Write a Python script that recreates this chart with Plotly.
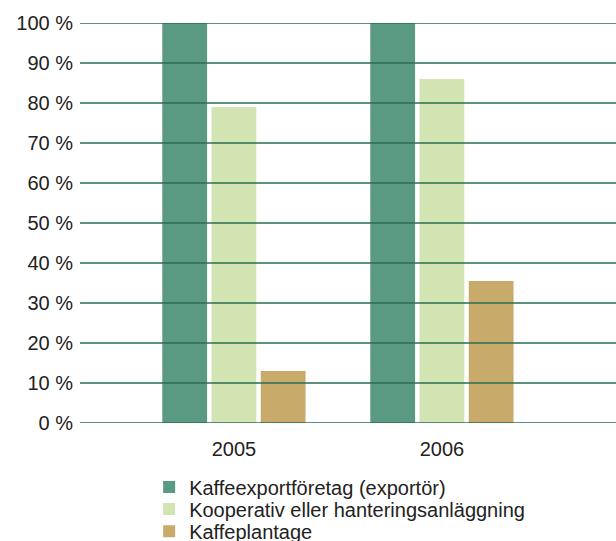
import plotly.graph_objects as go

years = ["2005", "2006"]
series_names = [
    "Kaffeexportföretag (exportör)",
    "Kooperativ eller hanteringsanläggning",
    "Kaffeplantage",
]
exporter = [100, 100]
cooperative = [79, 86]
plantation = [13, 35.5]
series_values = [exporter, cooperative, plantation]
colors = ["#5b9a82", "#d2e4b1", "#c8ab6a"]

y_ticks = [0, 10, 20, 30, 40, 50, 60, 70, 80, 90, 100]
y_ticklabels = [f"{v} %" for v in y_ticks]

font = "Liberation Sans, Arial, sans-serif"
legend_ids = ["legend", "legend2", "legend3"]
legend_rows = [0.100, 0.059, 0.018]

fig = go.Figure()
for name, vals, col, lg in zip(series_names, series_values, colors, legend_ids):
    fig.add_trace(go.Bar(x=years, y=vals, name=name, marker_color=col,
                         marker_line_width=0, legend=lg))

# gridlines drawn over the bars
grid_color = "#2a6e50"
for v in y_ticks:
    fig.add_shape(type="line", xref="paper", yref="y", x0=0, x1=1, y0=v, y1=v,
                  line=dict(color=grid_color, width=1.4), layer="above")

legend_style = dict(orientation="v", x=0.129, xanchor="left",
                    yref="container", yanchor="middle",
                    font=dict(size=20, family=font, color="#222222"),
                    itemwidth=30, bgcolor="rgba(0,0,0,0)")
legends = {lg: dict(legend_style, y=yy) for lg, yy in zip(legend_ids, legend_rows)}

fig.update_layout(
    width=616, height=541,
    margin=dict(l=80, r=0, t=23, b=118, autoexpand=False),
    paper_bgcolor="white", plot_bgcolor="white",
    barmode="group", bargap=0.29, bargroupgap=0.09,
    font=dict(family=font, color="#222222", size=20),
    showlegend=True,
    xaxis=dict(range=[-0.74, 1.837], showgrid=False, showline=False, ticks="",
               ticklabelstandoff=12, tickfont=dict(size=20), fixedrange=True),
    yaxis=dict(range=[0, 100], tickvals=y_ticks, ticktext=y_ticklabels,
               showgrid=False, zeroline=False, showline=False, ticks="",
               ticklabelstandoff=6, tickfont=dict(size=20), fixedrange=True),
    **legends,
)

fig.write_html("out.html")
